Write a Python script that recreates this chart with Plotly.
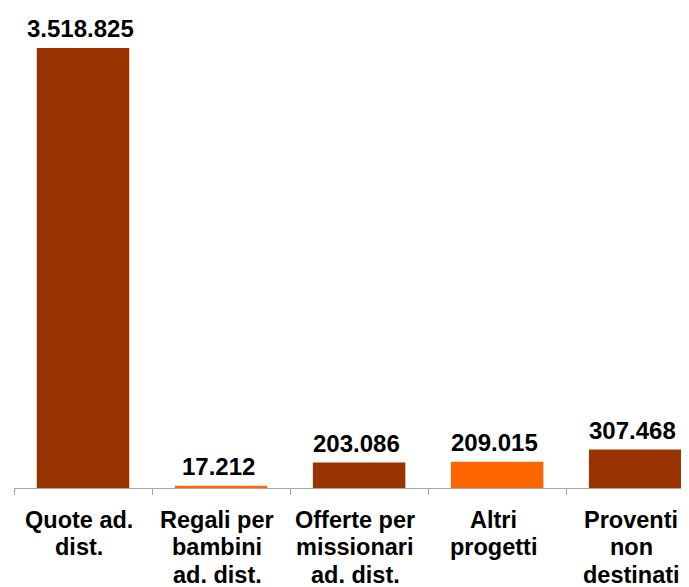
import plotly.graph_objects as go

categories = [
    "Quote ad. dist.",
    "Regali per bambini ad. dist.",
    "Offerte per missionari ad. dist.",
    "Altri progetti",
    "Proventi non destinati",
]
label_lines = [
    ["Quote ad.", "dist."],
    ["Regali per", "bambini", "ad. dist."],
    ["Offerte per", "missionari", "ad. dist."],
    ["Altri", "progetti"],
    ["Proventi", "non", "destinati"],
]
values = [3518825, 17212, 203086, 209015, 307468]
colors = ["#993300", "#FF6600", "#993300", "#FF6600", "#993300"]

font_family = "Arial, Liberation Sans, sans-serif"

fig = go.Figure()
fig.add_trace(
    go.Bar(
        x=categories,
        y=values,
        marker_color=colors,
        marker_line_width=0,
        width=0.67,
        hoverinfo="skip",
    )
)

# value labels above the bars
for cat, val in zip(categories, values):
    fig.add_annotation(
        x=cat,
        y=val,
        text="<b>" + f"{val:,.0f}".replace(",", ".") + "</b>",
        showarrow=False,
        yanchor="bottom",
        xshift=-3,
        yshift=4,
        font=dict(family=font_family, size=24, color="#000000"),
    )

# category labels, one annotation per line to keep the tight line spacing
for cat, lines in zip(categories, label_lines):
    for i, line in enumerate(lines):
        fig.add_annotation(
            x=cat,
            xref="x",
            y=0,
            yref="paper",
            text=f"<b>{line}</b>",
            showarrow=False,
            yanchor="top",
            xshift=-4,
            yshift=-(17 + i * 27.3),
            font=dict(family=font_family, size=23.5, color="#000000"),
        )

# page body has an 8px margin, so the figure is shrunk by that much
fig.update_layout(
    width=681,
    height=579,
    margin=dict(l=6, r=0, t=12, b=99, autoexpand=False),
    plot_bgcolor="white",
    paper_bgcolor="white",
    showlegend=False,
    font=dict(family=font_family, size=23, color="#000000"),
)
fig.update_xaxes(
    range=[-0.5, 4.39],
    showline=True,
    linecolor="#a6a6a6",
    linewidth=1,
    ticks="outside",
    tickson="boundaries",
    ticklen=6,
    tickcolor="#a6a6a6",
    showticklabels=False,
    showgrid=False,
)
fig.update_yaxes(
    range=[0, 3742768],
    visible=False,
    showgrid=False,
    zeroline=False,
)

fig.write_html("out.html")
